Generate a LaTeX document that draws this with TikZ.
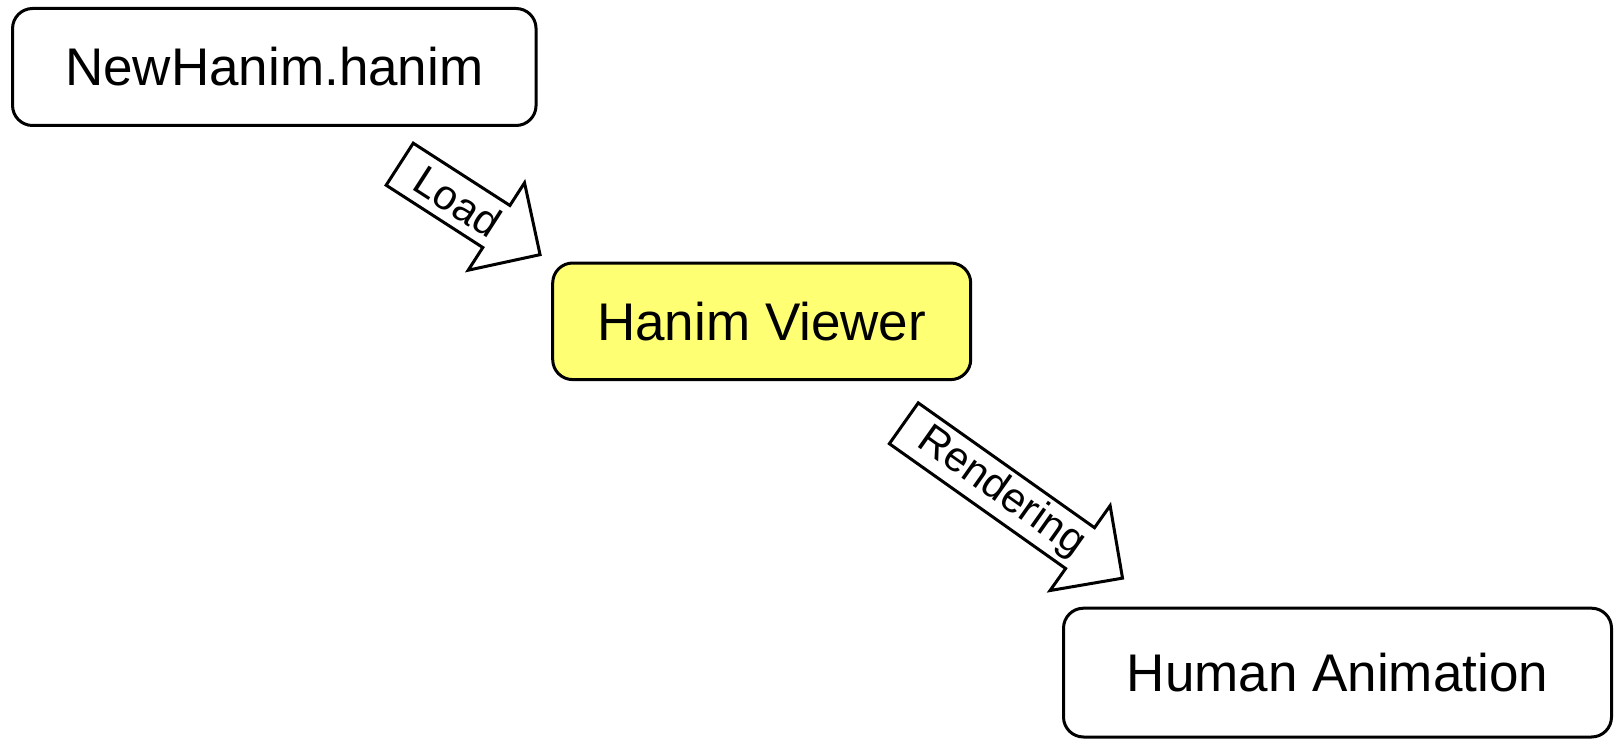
\documentclass[tikz,border=0pt]{standalone}
\usepackage{fontspec}
\setmainfont{Liberation Sans}
\definecolor{viewerfill}{RGB}{255,255,115}
\begin{document}
\begin{tikzpicture}[x=1pt,y=-1pt,
  stagebox/.style={draw=black, line width=3pt, rounded corners=20pt, inner sep=0pt,
    font=\fontsize{53}{60}\selectfont},
  blockarrow/.style={draw=black, line width=3pt, fill=white, line join=miter},
  arrowlabel/.style={inner sep=0pt, font=\fontsize{42}{48}\selectfont}]
\useasboundingbox (0,0) rectangle (1615,741);

% pipeline stages
\node[stagebox, minimum width=523.5pt, minimum height=117pt] (file) at (274.3,67) {NewHanim.hanim};
\node[stagebox, fill=viewerfill, minimum width=418pt, minimum height=116.6pt] (viewer) at (761.7,321.3) {Hanim Viewer};
\node[stagebox, minimum width=548pt, minimum height=128.8pt] (anim) at (1337.5,672.6) {Human Animation};

% block arrow: file -> viewer
\begin{scope}[shift={(399.7,164.2)}, rotate=-32.8]
  \draw[blockarrow] (0,-25) -- (115,-25) -- (115,-52) -- (167,0) -- (115,52) -- (115,25) -- (0,25) -- cycle;
  \node[arrowlabel, rotate=-32.8] (load) at (69,0) {Load};
\end{scope}

% block arrow: viewer -> animation
\begin{scope}[shift={(903.8,423.3)}, rotate=-35.3]
  \draw[blockarrow] (0,-25) -- (216,-25) -- (216,-52) -- (268,0) -- (216,52) -- (216,25) -- (0,25) -- cycle;
  \node[arrowlabel, rotate=-35.3] (render) at (119.5,0) {Rendering};
\end{scope}
\end{tikzpicture}
\end{document}
